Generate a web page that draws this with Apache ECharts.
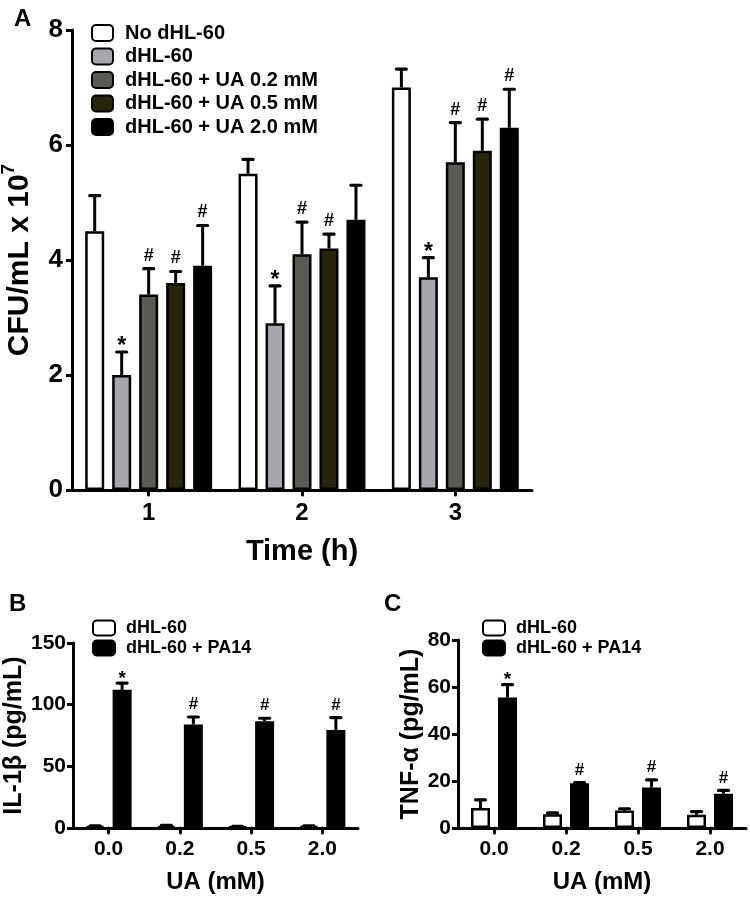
<!DOCTYPE html>
<html>
<head>
<meta charset="utf-8">
<script src="https://cdn.jsdelivr.net/npm/echarts@6/dist/echarts.min.js"></script>
<style>html,body{margin:0;padding:0;background:#fff}#c{width:750px;height:897px}</style>
</head>
<body>
<div id="c"></div>
<script>
// ---------- Panel A data ----------
const catA = ['1', '2', '3'];
const namesA = ['No dHL-60', 'dHL-60', 'dHL-60 + UA 0.2 mM', 'dHL-60 + UA 0.5 mM', 'dHL-60 + UA 2.0 mM'];
const colorsA = ['#ffffff', '#a7a6ac', '#5a5b55', '#28260a', '#000000'];
const noDHL = [4.5, 5.5, 7.0];
const noDHLErr = [0.62, 0.25, 0.32];
const dHL = [2.0, 2.9, 3.7];
const dHLErr = [0.4, 0.65, 0.34];
const ua02 = [3.4, 4.1, 5.7];
const ua02Err = [0.45, 0.56, 0.69];
const ua05 = [3.6, 4.2, 5.9];
const ua05Err = [0.2, 0.25, 0.55];
const ua20 = [3.9, 4.7, 6.3];
const ua20Err = [0.7, 0.6, 0.67];
const sigNoDHL = ['', '', ''];
const sigDHL = ['*', '*', '*'];
const sigUa02 = ['#', '#', '#'];
const sigUa05 = ['#', '#', '#'];
const sigUa20 = ['#', '', '#'];
const yTicksA = [0, 2, 4, 6, 8];

// ---------- Panel B data (IL-1β) ----------
const catUA = ['0.0', '0.2', '0.5', '2.0'];
const namesBC = ['dHL-60', 'dHL-60 + PA14'];
const il1bCtrl = [1.5, 1.8, 1.2, 1.5];
const il1bCtrlErr = [0.3, 0.3, 0.2, 0.3];
const il1bPA = [112, 84, 86.5, 79.5];
const il1bPAErr = [5.5, 6, 2.5, 10];
const sigCtrl = ['', '', '', ''];
const sigPA = ['*', '#', '#', '#'];
const yTicksB = [0, 50, 100, 150];

// ---------- Panel C data (TNF-α) ----------
const tnfCtrl = [8.5, 5.8, 7.4, 5.6];
const tnfCtrlErr = [3.5, 0.6, 0.8, 1.4];
const tnfPA = [55.5, 19, 17.2, 14.6];
const tnfPAErr = [5.5, 0.3, 3.3, 1.4];
const yTicksC = [0, 20, 40, 60, 80];

const FONT = 'Arial, "Liberation Sans", Helvetica, sans-serif';
const BAR_W = 19;
const BAR_GAP = 0.42; // fraction of bar width
const stripName = n => n.split('|')[1];

function barSeries(panel, name, data, color, gridIdx) {
  return {
    type: 'bar', name: panel + '|' + name, xAxisIndex: gridIdx, yAxisIndex: gridIdx,
    data: data, barWidth: BAR_W, barGap: (BAR_GAP * 100) + '%',
    itemStyle: { color: color, borderColor: '#000', borderWidth: 2.5 },
    z: 2
  };
}

function errSeries(means, errs, sigs, idx, count, gridIdx, big) {
  const step = BAR_W * (1 + BAR_GAP);
  const off = (idx - (count - 1) / 2) * step;
  return {
    type: 'custom', xAxisIndex: gridIdx, yAxisIndex: gridIdx, z: 5, silent: true,
    data: means.map((m, i) => [i, m, errs[i]]),
    encode: { x: 0, y: 1 },
    renderItem: function (params, api) {
      const i = params.dataIndex;
      const m = api.value(1), e = api.value(2);
      const base = api.coord([i, m]);
      const top = api.coord([i, m + e]);
      const cx = base[0] + off;
      const children = [
        { type: 'line', shape: { x1: cx, y1: base[1], x2: cx, y2: top[1] }, style: { stroke: '#000', lineWidth: 3 } },
        { type: 'line', shape: { x1: cx - 5, y1: top[1], x2: cx + 5, y2: top[1] }, style: { stroke: '#000', lineWidth: 3.2, lineCap: 'round' } }
      ];
      const s = sigs[i];
      if (s) {
        const star = s === '*';
        const fs = star ? (big ? 23 : 19) : (big ? 18 : 17);
        children.push({
          type: 'text',
          style: {
            text: s, x: cx, y: top[1] + (star ? (big ? 6 : 5) : -4),
            align: 'center', verticalAlign: 'bottom',
            fontSize: fs, fontWeight: 'bold', fontFamily: FONT, fill: '#000'
          }
        });
      }
      return { type: 'group', children: children };
    }
  };
}

function valueAxis(gridIdx, max, interval, fs, name, nameGap, nameFs, margin) {
  return {
    type: 'value', gridIndex: gridIdx, min: 0, max: max, interval: interval,
    name: name, nameLocation: 'middle', nameRotate: 90, nameGap: nameGap,
    nameTextStyle: { fontSize: nameFs, fontWeight: 'bold', fontFamily: FONT, color: '#000' },
    axisLine: { show: true, lineStyle: { color: '#000', width: 3 } },
    axisTick: { show: true, length: 6, lineStyle: { color: '#000', width: 3 } },
    splitLine: { show: false },
    axisLabel: { fontSize: fs, fontWeight: 'bold', fontFamily: FONT, color: '#000', margin: margin }
  };
}

function catAxis(gridIdx, cats, fs, name, nameGap, nameFs, margin) {
  return {
    type: 'category', gridIndex: gridIdx, data: cats,
    name: name, nameLocation: 'middle', nameGap: nameGap,
    nameTextStyle: { fontSize: nameFs, fontWeight: 'bold', fontFamily: FONT, color: '#000' },
    axisLine: { show: true, lineStyle: { color: '#000', width: 3 } },
    axisTick: { show: true, alignWithLabel: true, length: 5, lineStyle: { color: '#000', width: 3, cap: 'round' } },
    splitLine: { show: false },
    axisLabel: { fontSize: fs, fontWeight: 'bold', fontFamily: FONT, color: '#000', margin: margin }
  };
}

const meansA = [noDHL, dHL, ua02, ua05, ua20];
const errsA = [noDHLErr, dHLErr, ua02Err, ua05Err, ua20Err];
const sigsA = [sigNoDHL, sigDHL, sigUa02, sigUa05, sigUa20];

const series = [];
namesA.forEach((n, k) => series.push(barSeries('A', n, meansA[k], colorsA[k], 0)));
namesA.forEach((n, k) => series.push(errSeries(meansA[k], errsA[k], sigsA[k], k, 5, 0, true)));
series.push(barSeries('B', namesBC[0], il1bCtrl, '#ffffff', 1));
series.push(barSeries('B', namesBC[1], il1bPA, '#000000', 1));
series.push(errSeries(il1bCtrl, il1bCtrlErr, sigCtrl, 0, 2, 1, false));
series.push(errSeries(il1bPA, il1bPAErr, sigPA, 1, 2, 1, false));
series.push(barSeries('C', namesBC[0], tnfCtrl, '#ffffff', 2));
series.push(barSeries('C', namesBC[1], tnfPA, '#000000', 2));
series.push(errSeries(tnfCtrl, tnfCtrlErr, sigCtrl, 0, 2, 2, false));
series.push(errSeries(tnfPA, tnfPAErr, sigPA, 1, 2, 2, false));

const yA = valueAxis(0, yTicksA[yTicksA.length - 1], yTicksA[1] - yTicksA[0], 26, '{a|CFU/mL x 10}{s|7}', 37, 30, 9);
yA.nameTextStyle.rich = {
  a: { fontSize: 30, fontWeight: 'bold', fontFamily: FONT, color: '#000', lineHeight: 36, verticalAlign: 'bottom' },
  s: { fontSize: 19, fontWeight: 'bold', fontFamily: FONT, color: '#000', lineHeight: 19, verticalAlign: 'top' }
};

const legendBase = (left, top, names, fs, itemW, itemH, gap, pad) => ({
  orient: 'vertical', left: left, top: top, data: names, selectedMode: false,
  icon: 'roundRect', itemWidth: itemW, itemHeight: itemH, itemGap: gap,
  formatter: stripName,
  textStyle: { fontSize: fs, fontWeight: 'bold', fontFamily: FONT, color: '#000', padding: [0, 0, 0, pad] }
});

const option = {
  animation: false,
  backgroundColor: '#fff',
  title: [
    { text: 'A', left: 9, top: 2, textStyle: { fontSize: 24, fontWeight: 'bold', fontFamily: FONT, color: '#000' } },
    { text: 'B', left: 4, top: 587, textStyle: { fontSize: 24, fontWeight: 'bold', fontFamily: FONT, color: '#000' } },
    { text: 'C', left: 379, top: 587, textStyle: { fontSize: 24, fontWeight: 'bold', fontFamily: FONT, color: '#000' } }
  ],
  legend: [
    legendBase(86, 18, namesA.map(n => 'A|' + n), 20, 21, 16, 3.5, 7),
    legendBase(87, 614, namesBC.map(n => 'B|' + n), 18, 22, 15, 2, 6),
    legendBase(477, 614, namesBC.map(n => 'C|' + n), 18, 22, 15, 2, 6)
  ],
  grid: [
    { left: 72, top: 30, width: 460, height: 460, outerBoundsMode: 'none' },
    { left: 73, top: 643, width: 285, height: 185, outerBoundsMode: 'none' },
    { left: 458, top: 640, width: 288, height: 188, outerBoundsMode: 'none' }
  ],
  xAxis: [
    catAxis(0, catA, 24, 'Time (h)', 47, 29, 11),
    catAxis(1, catUA, 21, 'UA (mM)', 42, 24, 11),
    catAxis(2, catUA, 21, 'UA (mM)', 42, 24, 11)
  ],
  yAxis: [
    yA,
    valueAxis(1, yTicksB[yTicksB.length - 1], yTicksB[1] - yTicksB[0], 21, 'IL-1β (pg/mL)', 45, 25, 7),
    valueAxis(2, yTicksC[yTicksC.length - 1], yTicksC[1] - yTicksC[0], 21, 'TNF-α (pg/mL)', 34, 25, 7)
  ],
  series: series
};

const chart = echarts.init(document.getElementById('c'), null, { renderer: 'canvas' });
chart.setOption(option);
</script>
</body>
</html>
